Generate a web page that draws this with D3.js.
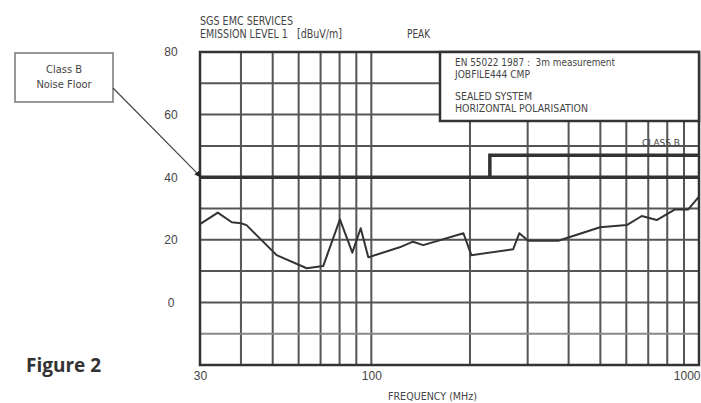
<!DOCTYPE html>
<html>
<head>
<meta charset="utf-8">
<script src="https://cdn.jsdelivr.net/npm/d3@7"></script>
<style>
  body { margin: 0; background: #fff; }
  svg { display: block; }
  .lbl { font-family: "Liberation Sans Narrow", "DejaVu Sans Condensed", sans-serif; fill: #444; white-space: pre; }
</style>
</head>
<body>
<div class="container"></div>
<script>
// emission curve (MHz, dBuV/m)
const freqs = [30, 34, 37.5, 40, 41.6, 51.4, 63.5, 71.3, 80.2, 87.5, 92.8, 97.9,
  122, 134, 144, 191, 202, 271, 283, 301, 372, 499, 602, 669, 743, 845, 927, 1000];
const levels = [25.0, 28.7, 25.6, 25.3, 24.7, 15.1, 10.9, 11.6, 26.5, 15.9, 23.7, 14.4,
  17.6, 19.4, 18.3, 22.1, 15.1, 17.0, 22.1, 19.7, 19.7, 24.0, 24.7, 27.6, 26.3, 29.7, 29.7, 33.8];

// class B limit
const limitFreqs = [30, 230, 230, 1000];
const limitLevels = [40, 40, 47, 47];

const xGrid = [40, 50, 60, 70, 80, 90, 100, 200, 300, 400, 500, 600, 700, 800, 900];
const yGrid = [-10, 0, 10, 20, 30, 40, 50, 60, 70];
const xTicks = [30, 100, 1000];
const yTicks = [0, 20, 40, 60, 80];

const headerLines = ["SGS EMC SERVICES", "EMISSION LEVEL 1   [dBuV/m]"];
const legendLines = ["EN 55022 1987 :  3m measurement", "JOBFILE444 CMP", "", "SEALED SYSTEM", "HORIZONTAL POLARISATION"];

const W = 701, H = 403;
const svg = d3.select(".container").append("svg")
  .attr("width", W).attr("height", H);

const x = d3.scaleLog().domain([30, 1000]).range([200, 699]);
const y = d3.scaleLinear().domain([-20, 80]).range([365, 52]);

svg.append("defs").append("marker")
  .attr("id", "arr").attr("viewBox", "0 0 10 10")
  .attr("refX", 9).attr("refY", 5)
  .attr("markerWidth", 6).attr("markerHeight", 6)
  .attr("orient", "auto")
  .append("path").attr("d", "M0,1 L10,5 L0,9 Z").attr("fill", "#222");

//Grid
svg.append("g").selectAll("line").data(xGrid).enter().append("line")
  .attr("x1", d => x(d)).attr("x2", d => x(d))
  .attr("y1", y(80)).attr("y2", y(-20))
  .attr("stroke", "#555").attr("stroke-width", 2);
svg.append("g").selectAll("line").data(yGrid).enter().append("line")
  .attr("x1", x(30)).attr("x2", x(1000))
  .attr("y1", d => y(d)).attr("y2", d => y(d))
  .attr("stroke", d => d === -10 ? "#888" : "#555").attr("stroke-width", 2);

//Class B limit lines
const lim = limitFreqs.map((f, i) => [f, limitLevels[i]]);
svg.append("path")
  .attr("d", d3.line().x(d => x(d[0])).y(d => y(d[1]))(lim))
  .attr("fill", "none").attr("stroke", "#333").attr("stroke-width", 3.5);
svg.append("line")
  .attr("x1", x(230)).attr("x2", x(1000))
  .attr("y1", y(40)).attr("y2", y(40))
  .attr("stroke", "#333").attr("stroke-width", 3.5);

//Emission curve
const pts = freqs.map((f, i) => [f, levels[i]]);
svg.append("path")
  .attr("d", d3.line().x(d => x(d[0])).y(d => y(d[1]))(pts))
  .attr("fill", "none").attr("stroke", "#333").attr("stroke-width", 2)
  .attr("stroke-linejoin", "round");

//Frame
svg.append("rect")
  .attr("x", x(30)).attr("y", y(80))
  .attr("width", x(1000) - x(30)).attr("height", y(-20) - y(80))
  .attr("fill", "none").attr("stroke", "#333").attr("stroke-width", 2.5);

//Legend box
const lg = svg.append("g");
lg.append("rect")
  .attr("x", 440).attr("y", y(80)).attr("width", x(1000) - 440).attr("height", 69)
  .attr("fill", "#fff").attr("stroke", "#333").attr("stroke-width", 2.5);
const legendWidths = [160, 75, 0, 77, 133];
lg.selectAll("text").data(legendLines).enter().append("text")
  .attr("class", "lbl")
  .attr("x", 455)
  .attr("y", (d, i) => [66, 77.5, 0, 100, 112][i])
  .attr("font-size", 10)
  .attr("textLength", (d, i) => legendWidths[i] || null)
  .attr("lengthAdjust", "spacingAndGlyphs")
  .text(d => d);

svg.append("text").attr("class", "lbl")
  .attr("x", 642).attr("y", 146).attr("font-size", 9)
  .attr("textLength", 38).attr("lengthAdjust", "spacingAndGlyphs")
  .text("CLASS B");

//Header
svg.selectAll(".hdr").data(headerLines).enter().append("text")
  .attr("class", "lbl hdr")
  .attr("x", 200).attr("y", (d, i) => 25 + i * 13)
  .attr("font-size", 11.5)
  .attr("textLength", (d, i) => [93, 142][i])
  .attr("lengthAdjust", "spacingAndGlyphs")
  .text(d => d);
svg.append("text").attr("class", "lbl")
  .attr("x", 407).attr("y", 38).attr("font-size", 11.5)
  .attr("textLength", 23).attr("lengthAdjust", "spacingAndGlyphs")
  .text("PEAK");

//Y Axis labels
const yAxis = d3.axisLeft(y).tickValues(yTicks).tickSize(0).tickPadding(0);
const yAxisGroup = svg.append("g").attr("transform", "translate(178,0)").call(yAxis);
yAxisGroup.select(".domain").remove();
yAxisGroup.selectAll("text")
  .attr("class", "lbl").attr("x", -7).attr("text-anchor", "middle")
  .attr("font-size", 12).style("font-family", "'Liberation Sans', sans-serif");

//X Axis labels
const xAxis = d3.axisBottom(x).tickValues(xTicks).tickFormat(d3.format("d")).tickSize(0).tickPadding(6);
const xAxisGroup = svg.append("g").attr("transform", `translate(0,${y(-20)})`).call(xAxis);
xAxisGroup.select(".domain").remove();
xAxisGroup.selectAll("text")
  .attr("class", "lbl").attr("font-size", 12)
  .style("font-family", "'Liberation Sans', sans-serif")
  .attr("text-anchor", d => d === 1000 ? "end" : "middle")
  .attr("x", d => d === 1000 ? 1 : 0);

svg.append("text").attr("class", "lbl")
  .attr("x", 388).attr("y", 400).attr("font-size", 10)
  .attr("textLength", 89).attr("lengthAdjust", "spacingAndGlyphs")
  .text("FREQUENCY (MHz)");

//Callout
svg.append("rect")
  .attr("x", 15).attr("y", 53).attr("width", 98).attr("height", 49)
  .attr("fill", "#fff").attr("stroke", "#777").attr("stroke-width", 1.5);
svg.append("text").attr("class", "lbl")
  .attr("x", 64).attr("y", 73).attr("text-anchor", "middle").attr("font-size", 11)
  .text("Class B");
svg.append("text").attr("class", "lbl")
  .attr("x", 64).attr("y", 88).attr("text-anchor", "middle").attr("font-size", 11)
  .text("Noise Floor");
svg.append("line")
  .attr("x1", 113).attr("y1", 88).attr("x2", x(30) + 1).attr("y2", y(40))
  .attr("stroke", "#444").attr("stroke-width", 1.2)
  .attr("marker-end", "url(#arr)");

svg.append("text")
  .attr("x", 26).attr("y", 372)
  .attr("font-family", "'Open Sans', sans-serif").attr("font-weight", "bold")
  .attr("font-size", 19).attr("fill", "#333")
  .text("Figure 2");
</script>
</body>
</html>
